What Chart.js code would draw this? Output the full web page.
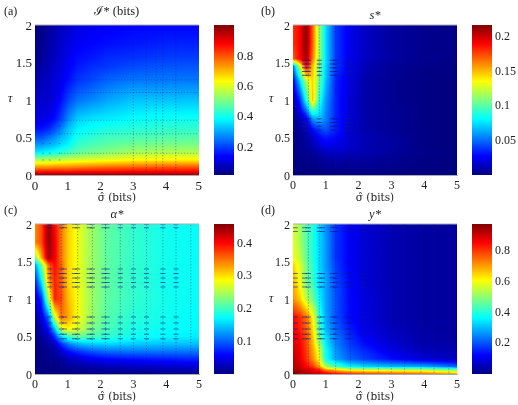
<!DOCTYPE html>
<html>
<head>
<meta charset="utf-8">
<script src="https://cdn.jsdelivr.net/npm/chart.js@4"></script>
<style>
	body {margin: 0; background: #fff; width: 518px; height: 405px; overflow: hidden; position: relative;}
	canvas {position: absolute;}
	.tag {position: absolute; font: 12px "Liberation Serif", serif; color: #222;}
</style>
</head>
<body>
<script>
// grid the four maps are read on
const sigma_grid = [0, 0.2, 0.4, 0.6, 0.8, 1, 1.3, 1.7, 2.2, 3, 4, 5];
const tau_grid = [0, 0.05, 0.1, 0.2, 0.3, 0.4, 0.5, 0.6, 0.75, 1, 1.25, 1.45, 1.55, 1.75, 2];

const sigma_ticks = [0, 1, 2, 3, 4, 5];
const tau_ticks = [0, 0.5, 1, 1.5, 2];

// one row per tau_grid entry
const info_values = [
	[.99,.99,.99,.99,.99,.99,.99,.99,.99,.99,.99,.99],
	[.86,.86,.86,.86,.86,.86,.87,.87,.87,.88,.88,.88],
	[.75,.75,.75,.76,.76,.76,.77,.78,.79,.80,.81,.81],
	[.56,.56,.57,.57,.58,.59,.60,.61,.62,.64,.65,.65],
	[.37,.38,.39,.41,.43,.45,.48,.50,.52,.55,.56,.56],
	[.29,.29,.31,.33,.36,.38,.44,.46,.48,.50,.51,.51],
	[.22,.22,.25,.28,.32,.35,.41,.43,.45,.46,.47,.47],
	[.16,.16,.18,.22,.27,.33,.38,.40,.42,.43,.44,.44],
	[.11,.11,.12,.15,.20,.27,.34,.36,.37,.39,.40,.40],
	[.09,.09,.09,.11,.15,.20,.25,.27,.30,.33,.33,.33],
	[.06,.07,.08,.10,.12,.15,.19,.21,.24,.26,.26,.26],
	[.04,.05,.07,.09,.11,.13,.16,.18,.19,.21,.22,.22],
	[.03,.04,.06,.08,.10,.12,.15,.16,.18,.19,.20,.20],
	[.02,.03,.05,.07,.09,.11,.13,.14,.15,.16,.17,.17],
	[.015,.02,.04,.06,.08,.09,.11,.12,.13,.14,.14,.14]
];
const s_values = [
	[.001,.001,.001,.001,.001,.001,.002,.002,.002,.002,.001,.001],
	[.001,.001,.001,.001,.001,.002,.002,.003,.003,.002,.001,.001],
	[.001,.001,.002,.002,.003,.004,.005,.005,.005,.003,.002,.001],
	[.001,.002,.003,.004,.005,.008,.009,.008,.007,.005,.002,.001],
	[.001,.003,.005,.007,.010,.014,.016,.014,.012,.007,.003,.001],
	[.002,.004,.007,.012,.020,.025,.024,.018,.012,.008,.002,.001],
	[.002,.004,.008,.016,.028,.033,.028,.018,.012,.008,.002,.001],
	[.003,.006,.012,.027,.040,.045,.035,.018,.010,.006,.002,.001],
	[.004,.010,.025,.060,.070,.055,.035,.020,.010,.006,.002,.001],
	[.010,.035,.085,.150,.090,.060,.035,.020,.010,.005,.002,.001],
	[.025,.070,.120,.145,.105,.068,.035,.022,.010,.005,.002,.001],
	[.050,.120,.190,.150,.110,.072,.040,.025,.012,.006,.003,.002],
	[.170,.190,.210,.165,.115,.075,.040,.025,.015,.008,.004,.003],
	[.180,.190,.215,.170,.115,.075,.040,.025,.015,.008,.004,.003],
	[.180,.190,.215,.170,.115,.075,.040,.025,.015,.008,.004,.003]
];
const alpha_values = [
	[.001,.001,.001,.001,.002,.003,.004,.005,.006,.007,.008,.010],
	[.001,.001,.001,.002,.003,.005,.008,.010,.012,.015,.018,.020],
	[.001,.001,.002,.003,.005,.010,.015,.020,.025,.030,.035,.040],
	[.001,.002,.004,.008,.015,.025,.035,.050,.060,.065,.070,.075],
	[.001,.003,.008,.015,.035,.060,.080,.095,.105,.110,.110,.110],
	[.002,.006,.015,.030,.080,.110,.140,.150,.155,.150,.145,.145],
	[.004,.012,.030,.080,.160,.200,.220,.210,.195,.180,.170,.165],
	[.006,.020,.060,.140,.270,.290,.270,.230,.205,.185,.175,.170],
	[.010,.040,.100,.260,.350,.330,.285,.245,.210,.190,.180,.170],
	[.030,.080,.240,.390,.370,.320,.285,.245,.215,.195,.180,.175],
	[.070,.170,.320,.390,.360,.310,.280,.245,.215,.195,.180,.175],
	[.120,.220,.350,.400,.360,.310,.280,.245,.215,.195,.180,.175],
	[.220,.330,.440,.410,.350,.310,.280,.245,.215,.195,.180,.175],
	[.340,.370,.450,.410,.350,.310,.280,.245,.215,.195,.180,.175],
	[.340,.370,.450,.400,.350,.310,.280,.245,.215,.195,.180,.175]
];
const y_values = [
	[.97,.95,.93,.91,.90,.88,.85,.82,.80,.78,.76,.70],
	[.95,.93,.90,.87,.84,.74,.68,.62,.60,.58,.56,.50],
	[.93,.90,.85,.80,.70,.52,.44,.36,.33,.30,.28,.22],
	[.92,.88,.81,.72,.60,.38,.28,.22,.18,.13,.08,.06],
	[.90,.87,.80,.70,.58,.38,.27,.20,.16,.10,.06,.05],
	[.89,.86,.79,.68,.52,.35,.25,.18,.13,.08,.04,.035],
	[.88,.85,.78,.66,.48,.33,.24,.17,.11,.07,.04,.03],
	[.86,.83,.76,.64,.45,.30,.22,.15,.10,.06,.035,.03],
	[.85,.82,.75,.62,.42,.28,.20,.13,.09,.05,.03,.03],
	[.72,.66,.55,.47,.36,.28,.20,.13,.09,.05,.03,.03],
	[.68,.60,.48,.42,.34,.28,.19,.13,.08,.05,.03,.03],
	[.66,.58,.48,.41,.33,.27,.18,.12,.08,.05,.03,.03],
	[.60,.55,.46,.40,.33,.27,.17,.12,.08,.05,.03,.03],
	[.58,.53,.45,.40,.33,.27,.17,.12,.08,.05,.03,.03],
	[.58,.52,.45,.40,.33,.26,.17,.12,.08,.05,.03,.03]
];

const info_bar_ticks = [0.2, 0.4, 0.6, 0.8];
const s_bar_ticks = [0.05, 0.1, 0.15, 0.2];
const alpha_bar_ticks = [0.1, 0.2, 0.3, 0.4];
const y_bar_ticks = [0.2, 0.4, 0.6, 0.8];

// dark mesh marks that show through the maps
const info_mesh_columns = [3, 3.4, 3.7, 3.9, 4.3];
const info_mesh_rows = [0.29, 0.55, 0.73, 1.1, 1.27];
const s_mesh_columns = [0.47, 0.8, 1.3, 1.75];
const alpha_mesh_columns = [0.47, 0.8, 1.3, 1.75, 2.15, 2.6, 3, 3.4, 3.9, 4.3, 4.75];
const y_mesh_columns = [0.47, 0.8, 1.3, 1.75, 2.15, 2.6, 3, 3.4, 3.9, 4.3, 4.75];

const info_dash_sigma = [0.25, 0.45, 0.75];
const info_dash_tau = [0.2, 0.29, 0.42, 0.55, 0.65];
const s_dash_sigma = [0.35, 0.47, 0.8, 1.2, 1.3, 1.65, 1.75];
const s_dash_tau = [0.6, 0.65, 0.7, 0.75, 1.33, 1.38, 1.43, 1.48, 1.53];
const alpha_dash_sigma = [0.45, 0.8, 0.9, 1.2, 1.3, 1.65, 1.75, 2.1, 2.2, 2.6, 3, 3.4, 3.9, 4.3];
const alpha_dash_tau = [0.47, 0.53, 0.6, 0.68, 0.76, 1.16, 1.22, 1.28, 1.34, 1.4, 1.95, 2];
const y_dash_sigma = [0.07, 0.35, 0.47, 0.8, 0.9, 1.2, 1.3, 1.65, 1.75, 2.15];
const y_dash_tau = [0.47, 0.53, 0.6, 0.68, 0.76, 1.16, 1.22, 1.28, 1.34, 1.9, 1.95];

const serif = '"Liberation Serif", serif';


function jet (t) {
	const c = v => Math.round (255 * Math.max (0, Math.min (1, v)));
	return [
		c (Math.min (4 * t - 1.5, -4 * t + 4.5)),
		c (Math.min (4 * t - 0.5, -4 * t + 3.5)),
		c (Math.min (4 * t + 0.5, -4 * t + 2.5))
	];
}

// Position of v in a sorted list, as [lower index, fraction]
function locate (list, v) {
	let i = 0;
	while (i < list.length - 2 && v > list[i + 1]) {i++;}
	const f = (v - list[i]) / (list[i + 1] - list[i]);
	return [i, Math.max (0, Math.min (1, f))];
}

// Shades the chart area pixel by pixel, the way matlab's "shading interp" does
const heat_plugin = {
	id: 'heat',
	beforeDatasetsDraw (chart, args, opts) {
		if (!opts.range) {return}
		const area = chart.chartArea;
		const w = Math.round (area.right - area.left);
		const h = Math.round (area.bottom - area.top);
		const off = document.createElement ('canvas');
		off.width = w;
		off.height = h;
		const off_ctx = off.getContext ('2d');
		const image = off_ctx.createImageData (w, h);
		const [low, high] = opts.range;

		for (let py = 0; py < h; py++) {
			const y = chart.scales.y.getValueForPixel (area.top + py + 0.5);
			const [r, fr] = opts.values ? locate (tau_grid, y) : [0, 0];
			for (let px = 0; px < w; px++) {
				let v = y;
				if (opts.values) {
					const [c, fc] = locate (sigma_grid, chart.scales.x.getValueForPixel (area.left + px + 0.5));
					const a = opts.values[r][c] * (1 - fc) + opts.values[r][c + 1] * fc;
					const b = opts.values[r + 1][c] * (1 - fc) + opts.values[r + 1][c + 1] * fc;
					v = a * (1 - fr) + b * fr;
				}
				const rgb = jet ((v - low) / (high - low));
				const k = (py * w + px) * 4;
				image.data[k] = rgb[0];
				image.data[k + 1] = rgb[1];
				image.data[k + 2] = rgb[2];
				image.data[k + 3] = 255;
			}
		}
		off_ctx.putImageData (image, 0, 0);
		chart.ctx.drawImage (off, area.left, area.top, w, h);
	}
};

function addCanvas (left, top, width, height) {
	const canvas = document.createElement ('canvas');
	canvas.width = width;
	canvas.height = height;
	canvas.style.left = left + 'px';
	canvas.style.top = top + 'px';
	document.body.appendChild (canvas);
	return canvas;
}

function addTag (text, left, top, italic) {
	const tag = document.createElement ('span');
	tag.className = 'tag';
	tag.style.left = left + 'px';
	tag.style.top = top + 'px';
	if (italic) {tag.style.fontStyle = 'italic';}
	tag.innerText = text;
	document.body.appendChild (tag);
}

function meshLine (points, alpha) {
	return {
		type: 'line',
		data: points,
		borderColor: `rgba(15, 25, 130, ${alpha})`,
		borderWidth: 1,
		borderDash: [1, 2],
		pointRadius: 0
	};
}

function drawMap (p) {
	const dashes = [];
	p.dash_sigma.forEach (x => p.dash_tau.forEach (y => dashes.push ({x: x, y: y})));

	const datasets = p.columns.map (x => meshLine ([{x: x, y: p.column_span[0]}, {x: x, y: p.column_span[1]}], 0.5));
	p.rows.forEach (y => datasets.push (meshLine ([{x: 0.8, y: y}, {x: 5, y: y}], 0.4)));
	datasets.push ({
		type: 'scatter',
		data: dashes,
		pointStyle: 'line',
		pointRadius: p.dash_size,
		borderWidth: 1,
		borderColor: p.dash_color
	});
	// top edge of the box
	datasets.push ({
		type: 'line',
		data: [{x: 0, y: 2}, {x: 5, y: 2}],
		borderColor: '#aaa',
		borderWidth: 1,
		pointRadius: 0,
		clip: false
	});

	new Chart (addCanvas (p.left, p.top, 206, 205), {
		type: 'scatter',
		data: {datasets: datasets},
		plugins: [heat_plugin],
		options: {
			animation: false,
			responsive: false,
			layout: {padding: {right: 6}},
			plugins: {
				legend: {display: false},
				tooltip: {enabled: false},
				heat: {values: p.values, range: p.range},
				title: {
					display: true,
					fullSize: false,
					text: p.title,
					color: '#222',
					font: {family: serif, size: 12.5, weight: 'normal', style: p.title_style, lineHeight: 1},
					padding: {top: p.title_top, bottom: 25 - 12.5 - p.title_top}
				}
			},
			scales: {
				x: {
					type: 'linear',
					min: 0,
					max: 5,
					afterBuildTicks: scale => {scale.ticks = sigma_ticks.map (v => ({value: v}))},
					afterFit: scale => {scale.height = 30},
					grid: {drawOnChartArea: false, drawTicks: false, color: '#888'},
					border: {color: '#aaa'},
					ticks: {padding: 4, color: '#222', maxRotation: 0, font: {family: serif, size: p.tick_size}, callback: v => String (v)},
					title: {display: true, text: 'σ̂ (bits)', color: '#222', font: {family: '"DejaVu Serif", serif', size: 10.5, weight: 'normal', lineHeight: 1}, padding: {top: 0, bottom: 1}}
				},
				y: {
					type: 'linear',
					min: 0,
					max: 2,
					afterBuildTicks: scale => {scale.ticks = tau_ticks.map (v => ({value: v}))},
					afterFit: scale => {scale.width = 35},
					grid: {drawOnChartArea: false, drawTicks: false, color: '#888'},
					border: {color: '#aaa'},
					ticks: {padding: 3, color: '#222', labelOffset: 1.5, font: {family: serif, size: p.tick_size}, callback: v => String (v)}
				}
			}
		}
	});
}

function drawBar (p) {
	new Chart (addCanvas (p.left, p.top, 50, 205), {
		type: 'scatter',
		data: {datasets: [{data: []}]},
		plugins: [heat_plugin],
		options: {
			animation: false,
			responsive: false,
			layout: {padding: {top: 25, bottom: 30}},
			plugins: {
				legend: {display: false},
				tooltip: {enabled: false},
				heat: {range: p.range}
			},
			scales: {
				x: {display: false},
				y: {
					type: 'linear',
					position: 'right',
					min: p.range[0],
					max: p.range[1],
					afterBuildTicks: scale => {scale.ticks = p.ticks.map (v => ({value: v}))},
					afterFit: scale => {scale.width = 30},
					grid: {drawOnChartArea: false, drawTicks: false},
					border: {display: false},
					ticks: {padding: 3, color: '#222', font: {family: serif, size: p.tick_size}, callback: v => String (v)}
				}
			}
		}
	});
}

drawMap ({
	left: 0, top: 0, values: info_values, range: [0.015, 1.01], title: 'ℐ* (bits)', title_style: 'normal', title_top: 5, tick_size: 13,
	columns: info_mesh_columns, column_span: [0.05, 1.95], rows: info_mesh_rows, dash_sigma: info_dash_sigma, dash_tau: info_dash_tau, dash_size: 0.8, dash_color: 'rgba(15, 25, 130, 0.4)'
});
drawMap ({
	left: 258, top: 0, values: s_values, range: [0.001, 0.217], title: 's*', title_style: 'italic', title_top: 9, tick_size: 12,
	columns: s_mesh_columns, column_span: [0.1, 2], rows: [], dash_sigma: s_dash_sigma, dash_tau: s_dash_tau, dash_size: 2.5, dash_color: 'rgba(10, 20, 150, 0.7)'
});
drawMap ({
	left: 0, top: 199, values: alpha_values, range: [0, 0.46], title: 'α*', title_style: 'italic', title_top: 9, tick_size: 12,
	columns: alpha_mesh_columns, column_span: [0.05, 2], rows: [], dash_sigma: alpha_dash_sigma, dash_tau: alpha_dash_tau, dash_size: 2.5, dash_color: 'rgba(10, 20, 150, 0.6)'
});
drawMap ({
	left: 258, top: 199, values: y_values, range: [0.001, 0.973], title: 'y*', title_style: 'italic', title_top: 9, tick_size: 12,
	columns: y_mesh_columns, column_span: [0.02, 2], rows: [], dash_sigma: y_dash_sigma, dash_tau: y_dash_tau, dash_size: 2.5, dash_color: 'rgba(10, 20, 150, 0.6)'
});

drawBar ({left: 214, top: 0, range: [0.015, 1.01], ticks: info_bar_ticks, tick_size: 13});
drawBar ({left: 472, top: 0, range: [0.001, 0.217], ticks: s_bar_ticks, tick_size: 12});
drawBar ({left: 214, top: 199, range: [0, 0.46], ticks: alpha_bar_ticks, tick_size: 12});
drawBar ({left: 472, top: 199, range: [0.001, 0.973], ticks: y_bar_ticks, tick_size: 12});

addTag ('(a)', 4, 4);
addTag ('(b)', 261, 4);
addTag ('(c)', 4, 203);
addTag ('(d)', 261, 203);

addTag ('τ', 8, 91, true);
addTag ('τ', 269, 91, true);
addTag ('τ', 8, 291, true);
addTag ('τ', 269, 291, true);
</script>
</body>
</html>
